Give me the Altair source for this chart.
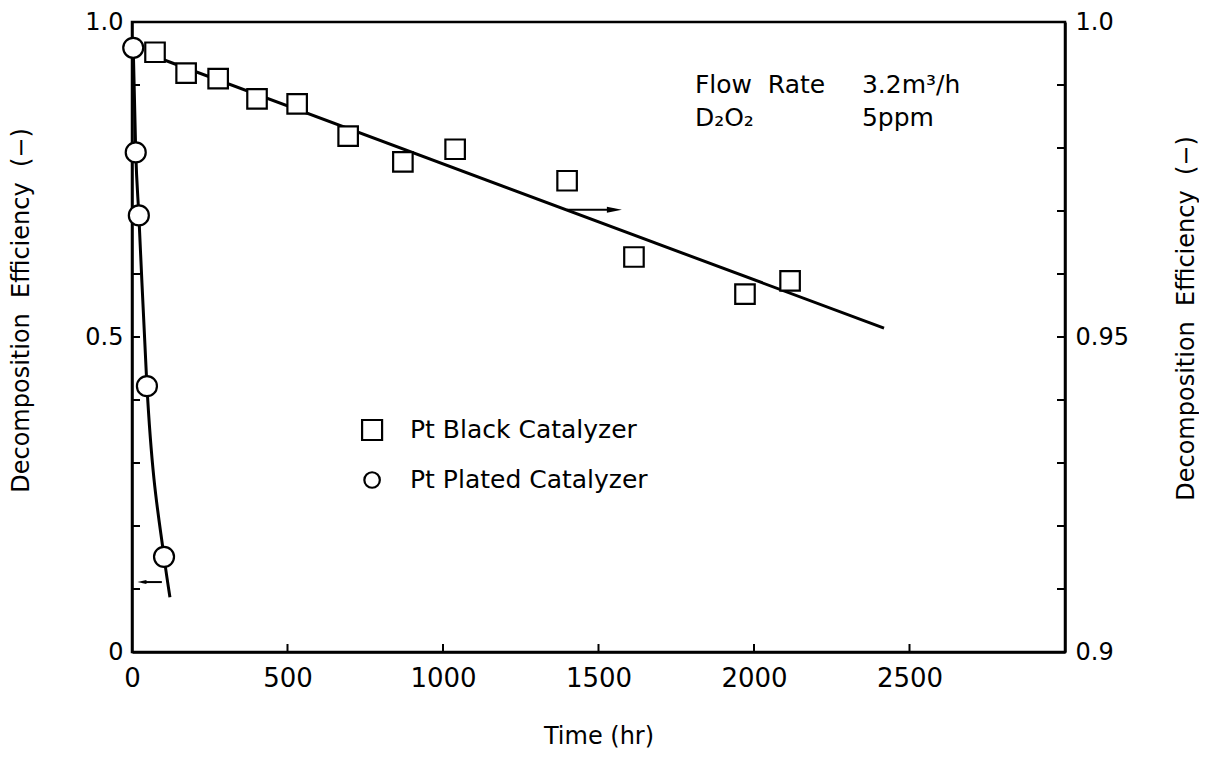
import altair as alt
import pandas as pd

# ---- data ----
series_names = ["Pt Black Catalyzer", "Pt Plated Catalyzer"]

plated_t = [4, 12, 22, 48, 103]
plated_v = [0.959, 0.793, 0.693, 0.422, 0.151]
plated_curve_t = [4, 12, 22, 48, 103, 122]
plated_curve_v = [0.959, 0.793, 0.693, 0.422, 0.151, 0.087]

black_t = [74, 174, 277, 402, 531, 695, 871, 1039, 1399, 1614, 1971, 2116]
black_v = [0.9952, 0.9919, 0.9910, 0.9878, 0.9870, 0.9819, 0.9778, 0.9798,
           0.9748, 0.9627, 0.9568, 0.9589]
fit_t = [80, 2418]
fit_v = [0.9944, 0.9514]

x_tick_values = [0, 500, 1000, 1500, 2000, 2500]
left_tick_values = [0, 0.5, 1.0]
right_tick_values = [0.9, 0.95, 1.0]
x_minor = [500, 1000, 1500, 2000, 2500]
left_minor = [0.1, 0.2, 0.3, 0.4, 0.5, 0.6, 0.7, 0.8, 0.9]
right_minor = [0.91, 0.92, 0.93, 0.94, 0.95, 0.96, 0.97, 0.98, 0.99]

note_text = ["Flow\u00a0\u00a0Rate", "3.2m³/h", "D₂O₂", "5ppm"]
note_t = [1810, 2347, 1810, 2347]
note_v = [0.887, 0.887, 0.835, 0.835]

# legend entries placed in the plot (left-axis units)
legend_symbol_t = [772, 772]
legend_text_t = [894, 894]
legend_v = [0.3524, 0.273]
legend_shapes = ["square", "circle"]
legend_sizes = [400, 240]

# arrows: [tail, head]
right_arrow_t = [1399, 1551]
right_arrow_v = 0.9702
left_arrow_t = [96, 32]
left_arrow_v = 0.111

W, H = 933, 630
FONT = "DejaVu Sans"
TITLE = "Decomposition\u00a0\u00a0Efficiency\u00a0\u00a0(−)"

xscale = alt.Scale(domain=[0, 3000], nice=False, zero=False)
lscale = alt.Scale(domain=[0, 1], nice=False)
rscale = alt.Scale(domain=[0.9, 1.0], nice=False, zero=False)

xaxis = alt.Axis(values=x_tick_values, tickSize=0, labelFont=FONT, labelFontSize=26,
                 labelPadding=13, format="d", title="Time (hr)", titleFont=FONT,
                 titleFontSize=24, titleY=91, titleBaseline="alphabetic", labelFlush=False)
laxis = alt.Axis(orient="left", values=left_tick_values, tickSize=0, labelFont=FONT,
                 labelFontSize=24, labelPadding=9,
                 labelExpr="datum.value == 0 ? '0' : format(datum.value, '.1f')",
                 title=TITLE, titleFont=FONT, titleFontSize=24, titleAngle=270,
                 titleX=-111, titleY=288, titleAlign="center", titleBaseline="middle",
                 labelFlush=False)
raxis = alt.Axis(orient="right", values=right_tick_values, tickSize=0, labelFont=FONT,
                 labelFontSize=24, labelPadding=10,
                 labelExpr="datum.value >= 1 ? '1.0' : format(datum.value, '~g')",
                 title=TITLE, titleFont=FONT, titleFontSize=24, titleAngle=270,
                 titleX=121, titleY=296, titleAlign="center", titleBaseline="middle",
                 labelFlush=False)

X = lambda f="t": alt.X(f"{f}:Q", scale=xscale, axis=xaxis)
YL = lambda f="v": alt.Y(f"{f}:Q", scale=lscale, axis=laxis)
YR = lambda f="v": alt.Y(f"{f}:Q", scale=rscale, axis=raxis)

# ---- left-axis layers (Pt plated) ----
plated_df = pd.DataFrame({"t": plated_t, "v": plated_v})
curve_df = pd.DataFrame({"t": plated_curve_t, "v": plated_curve_v})
notes_df = pd.DataFrame({"t": note_t, "v": note_v, "label": note_text})
larrow_df = pd.DataFrame({"t": [left_arrow_t[0]], "t2": [left_arrow_t[1]], "v": [left_arrow_v]})
lhead_df = pd.DataFrame({"t": [left_arrow_t[1]], "v": [left_arrow_v]})
lminor_df = pd.DataFrame({"v": left_minor})
xminor_df = pd.DataFrame({"t": x_minor})
leg_df = pd.DataFrame({"t": legend_symbol_t, "tt": legend_text_t, "v": legend_v,
                       "series": series_names, "shape": legend_shapes, "size": legend_sizes})

curve = alt.Chart(curve_df).mark_line(color="black", strokeWidth=3, interpolate="monotone").encode(
    x=X(), y=YL())
plated = alt.Chart(plated_df).mark_point(shape="circle", size=400, stroke="black", strokeWidth=2.2,
                                         fill="white", fillOpacity=1, opacity=1).encode(
    x=X(), y=YL())
notes = alt.Chart(notes_df).mark_text(align="left", baseline="alphabetic", font=FONT,
                                      fontSize=25, color="black").encode(
    x=X(), y=YL(), text="label:N")
larrow = alt.Chart(larrow_df).mark_rule(color="black", strokeWidth=2).encode(
    x=X(), x2="t2:Q", y=YL())
lhead = alt.Chart(lhead_df).mark_point(shape="M1,-0.45L-1,0L1,0.45Z", size=81, filled=True,
                                       color="black", opacity=1).encode(x=X(), y=YL())
lminor = alt.Chart(lminor_df).mark_rule(color="black", strokeWidth=2).encode(
    y=YL(), x=alt.value(0), x2=alt.value(8))
xminor = alt.Chart(xminor_df).mark_rule(color="black", strokeWidth=2).encode(
    x=X(), y=alt.value(H), y2=alt.value(H - 8))
leg_sym = alt.Chart(leg_df).mark_point(stroke="black", strokeWidth=2.2, fill="white",
                                       fillOpacity=1, opacity=1).encode(
    x=X(), y=YL(),
    shape=alt.Shape("shape:N", scale=None, legend=None),
    size=alt.Size("size:Q", scale=None, legend=None))
leg_txt = alt.Chart(leg_df).mark_text(align="left", baseline="middle", font=FONT,
                                      fontSize=25, color="black").encode(
    x=X("tt"), y=YL(), text="series:N")

left = alt.layer(lminor, xminor, curve, larrow, lhead, plated, notes, leg_sym, leg_txt)

# ---- right-axis layers (Pt black) ----
black_df = pd.DataFrame({"t": black_t, "v": black_v})
fit_df = pd.DataFrame({"t": fit_t, "v": fit_v})
rarrow_df = pd.DataFrame({"t": [right_arrow_t[0]], "t2": [right_arrow_t[1]], "v": [right_arrow_v]})
rhead_df = pd.DataFrame({"t": [right_arrow_t[1]], "v": [right_arrow_v]})
rminor_df = pd.DataFrame({"v": right_minor})

fit = alt.Chart(fit_df).mark_line(color="black", strokeWidth=3).encode(x=X(), y=YR())
black = alt.Chart(black_df).mark_point(shape="square", size=380, stroke="black", strokeWidth=2.2,
                                       fill="white", fillOpacity=1, opacity=1).encode(
    x=X(), y=YR())
rarrow = alt.Chart(rarrow_df).mark_rule(color="black", strokeWidth=2).encode(
    x=X(), x2="t2:Q", y=YR())
rhead = alt.Chart(rhead_df).mark_point(shape="M-1,-0.4L1,0L-1,0.4Z", size=225, filled=True,
                                       color="black", opacity=1).encode(x=X(), y=YR())
rminor = alt.Chart(rminor_df).mark_rule(color="black", strokeWidth=2).encode(
    y=YR(), x=alt.value(W), x2=alt.value(W - 8))

right = alt.layer(rminor, fit, rarrow, rhead, black)

chart = alt.layer(left, right).resolve_scale(y="independent").properties(
    width=W, height=H,
    autosize=alt.AutoSizeParams(type="none"),
    padding={"left": 124, "top": 14, "right": 134, "bottom": 101},
    background="white",
).configure_view(stroke="black", strokeWidth=2.5).configure_axis(
    grid=False, domainColor="black", domainWidth=2.5, labelColor="black",
    titleColor="black", titleFontWeight="normal")

chart.save("out.html", embed_options={"renderer": "svg", "actions": False})
